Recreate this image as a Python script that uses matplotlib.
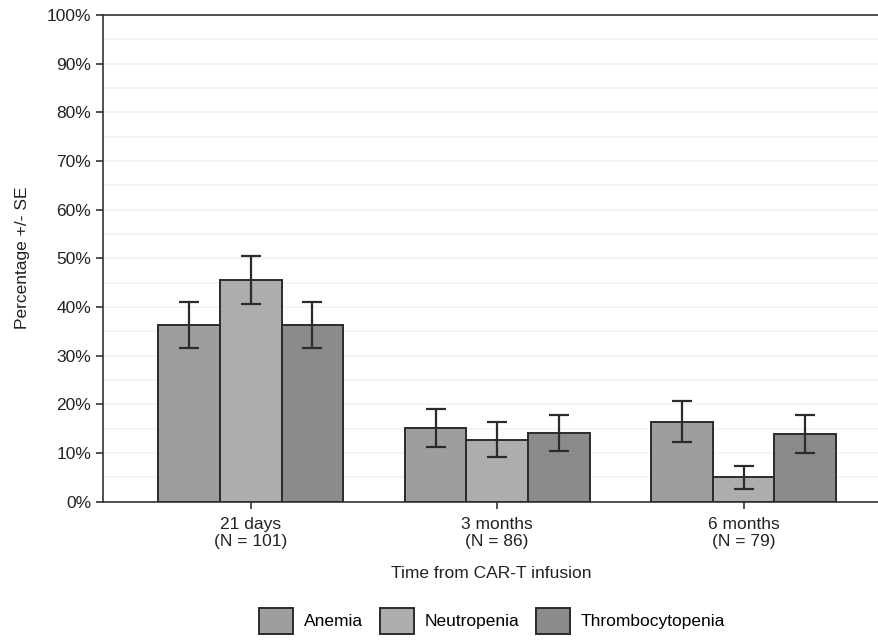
import numpy as np
import matplotlib
matplotlib.use('Agg')
import matplotlib.pyplot as plt
from matplotlib.ticker import MultipleLocator, PercentFormatter

plt.rcParams['font.family'] = ['Liberation Sans', 'DejaVu Sans']

timepoints = ['21 days\n(N = 101)', '3 months\n(N = 86)', '6 months\n(N = 79)']
series_names = ['Anemia', 'Neutropenia', 'Thrombocytopenia']
anemia = [36.3, 15.1, 16.4]
neutropenia = [45.5, 12.7, 5.0]
thrombocytopenia = [36.3, 14.0, 13.9]
anemia_se = [4.8, 3.9, 4.2]
neutropenia_se = [5.0, 3.6, 2.4]
thrombocytopenia_se = [4.8, 3.7, 3.9]

colors = ['#9e9e9e', '#adadad', '#8b8b8b']
edge = '#2b2b2b'
FS = 12.5

fig = plt.figure(figsize=(8.79, 6.42), dpi=100)
ax = fig.add_axes([0.1172, 0.2188, 0.8828, 0.758])

x = np.arange(1, len(timepoints) + 1)
width = 0.25
all_vals = [anemia, neutropenia, thrombocytopenia]
all_se = [anemia_se, neutropenia_se, thrombocytopenia_se]
for idx, (vals, se) in enumerate(zip(all_vals, all_se)):
    ax.bar(x + (idx - 1) * width, vals, width=width, color=colors[idx],
           edgecolor=edge, linewidth=1.4, label=series_names[idx], zorder=3,
           yerr=se, error_kw=dict(ecolor=edge, elinewidth=1.6, capsize=7, capthick=1.6))

ax.set_xlim(0.4, 3.55)
ax.set_ylim(0, 100)
ax.yaxis.set_major_locator(MultipleLocator(10))
ax.yaxis.set_minor_locator(MultipleLocator(5))
ax.yaxis.set_major_formatter(PercentFormatter(decimals=0))
ax.grid(axis='y', which='both', color='#f3f3f3', linewidth=1.2, zorder=0)
ax.set_xticks(x)
ax.set_xticklabels(timepoints, fontsize=FS, color='#222222')
ax.tick_params(axis='y', which='minor', length=0)
ax.tick_params(axis='both', which='major', length=5, width=1.2, color='#333333',
               labelsize=FS, labelcolor='#222222')
ax.tick_params(axis='x', pad=6)
for s in ['left', 'bottom', 'top']:
    ax.spines[s].set_color('#333333')
    ax.spines[s].set_linewidth(1.2)
ax.spines['right'].set_visible(False)

ax.set_ylabel('Percentage +/- SE', fontsize=FS, color='#222222', labelpad=12)
ax.set_xlabel('Time from CAR-T infusion', fontsize=FS, color='#222222', labelpad=12)

handles, labels = ax.get_legend_handles_labels()
fig.legend(handles, labels, loc='lower center', bbox_to_anchor=(0.56, -0.012), ncol=3,
           frameon=False, fontsize=FS, handlelength=1.95, handleheight=1.95,
           handletextpad=0.6, columnspacing=1.0)

fig.savefig('out.png', dpi=100)
